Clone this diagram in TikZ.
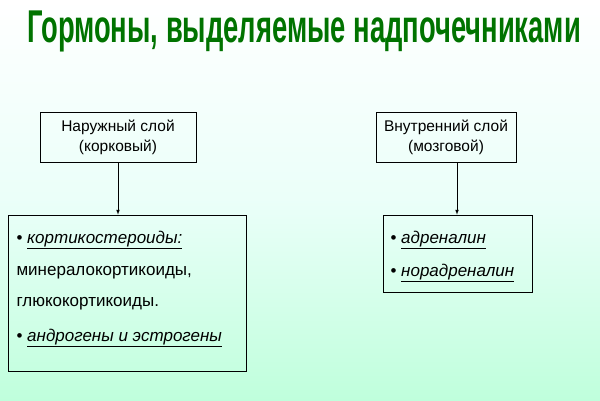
\documentclass[tikz,border=0pt]{standalone}
\usepackage{fontspec}
\setmainfont{Liberation Sans}
\begin{document}
\begin{tikzpicture}[x=1pt,y=-1pt,
  box/.style={draw=black,line width=0.7pt,inner sep=0pt},
  lbl/.style={font=\fontsize{17}{20}\selectfont,anchor=west},
  arr/.style={-latex,line width=0.7pt}]
\shade[top color=white,bottom color=green!55!cyan!25,middle color=green!30!cyan!8] (0,0) rectangle (600,400);
\useasboundingbox (0,0) rectangle (600,400);
\node[font=\bfseries\fontsize{46}{50}\selectfont,text=green!45!black,xscale=0.595] (title) at (304,31) {Гормоны, выделяемые надпочечниками};
\node[box,minimum width=156pt,minimum height=50pt,align=center,font=\fontsize{15.5}{20}\selectfont] (tl) at (118,137) {Наружный слой\\(корковый)};
\node[box,minimum width=140pt,minimum height=50pt,align=center,font=\fontsize{15.5}{20}\selectfont] (tr) at (446,137) {Внутренний слой\\(мозговой)};
\node[box,minimum width=238pt,minimum height=156pt] (bl) at (127,293) {};
\node[box,minimum width=149pt,minimum height=77pt] (br) at (457.5,253.5) {};
\coordinate (trs) at (457,162);
\draw[arr] (tl.south) -- (tl.south |- bl.north);
\draw[arr] (trs) -- (trs |- br.north);
\node[lbl] (a1) at (13,240) {• \underline{\textit{кортикостероиды:}}};
\node[lbl] (a2) at (13,273) {минералокортикоиды,};
\node[lbl] (a3) at (13,304) {глюкокортикоиды.};
\node[lbl] (a4) at (13,338) {• \underline{\textit{андрогены и эстрогены}}};
\node[lbl] (b1) at (387,240) {• \underline{\textit{адреналин}}};
\node[lbl] (b2) at (387,273) {• \underline{\textit{норадреналин}}};
\end{tikzpicture}
\end{document}
